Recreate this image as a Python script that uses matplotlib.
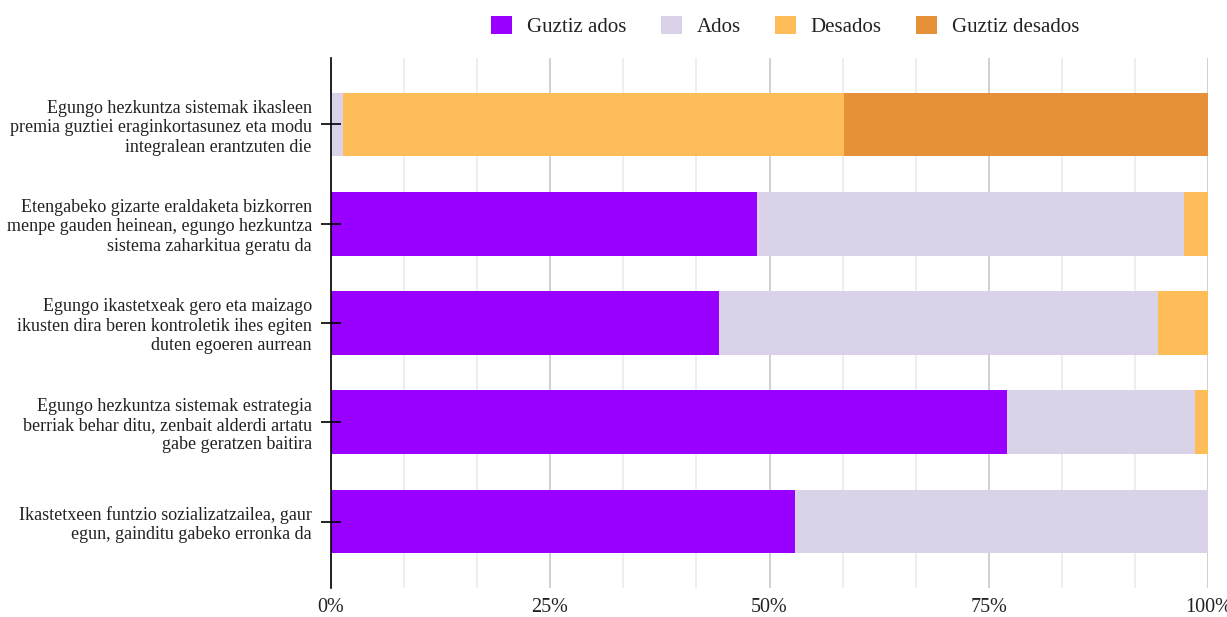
import numpy as np
import matplotlib.pyplot as plt
from matplotlib.patches import Patch
from matplotlib.ticker import FixedLocator, PercentFormatter

plt.rcParams['font.family'] = ['Liberation Serif', 'DejaVu Serif']

# Survey statements (top to bottom) and answer shares in percent
statements = [
    "Egungo hezkuntza sistemak ikasleen\npremia guztiei eraginkortasunez eta modu\nintegralean erantzuten die",
    "Etengabeko gizarte eraldaketa bizkorren\nmenpe gauden heinean, egungo hezkuntza\nsistema zaharkitua geratu da",
    "Egungo ikastetxeak gero eta maizago\nikusten dira beren kontroletik ihes egiten\nduten egoeren aurrean",
    "Egungo hezkuntza sistemak estrategia\nberriak behar ditu, zenbait alderdi artatu\ngabe geratzen baitira",
    "Ikastetxeen funtzio sozializatzailea, gaur\negun, gainditu gabeko erronka da",
]
answers = ["Guztiz ados", "Ados", "Desados", "Guztiz desados"]
guztiz_ados = [0.0, 48.6, 44.3, 77.1, 52.9]
ados = [1.4, 48.6, 50.0, 21.4, 47.1]
desados = [57.1, 2.8, 5.7, 1.5, 0.0]
guztiz_desados = [41.5, 0.0, 0.0, 0.0, 0.0]
colors = ["#9900ff", "#d9d2e9", "#ffbd59", "#e69138"]

fig = plt.figure(figsize=(12.27, 6.17), dpi=100)
ax = fig.add_axes([0.2694, 0.047, 0.7155, 0.859])

y = np.arange(len(statements))
left = np.zeros(len(statements))
for vals, name, col in zip([guztiz_ados, ados, desados, guztiz_desados], answers, colors):
    vals = np.array(vals)
    ax.barh(y, vals, left=left, height=0.64, color=col, label=name, zorder=2)
    left += vals

ax.set_xlim(0, 100)
ax.set_ylim(4.67, -0.67)

major = [0, 25, 50, 75, 100]
minor = np.linspace(0, 100, 13)
ax.xaxis.set_major_locator(FixedLocator(major))
ax.xaxis.set_major_formatter(PercentFormatter(decimals=0))

# gridlines behind the bars: light every 1/12, darker at the labelled quarters
ax.vlines(minor, 0, 1, transform=ax.get_xaxis_transform(), color='#ebebeb', lw=1.2, zorder=0)
ax.vlines(major, 0, 1, transform=ax.get_xaxis_transform(), color='#cccccc', lw=1.2, zorder=0.5)

# ticks drawn over the bars
ax.set_axisbelow(False)
ax.tick_params(axis='x', length=0, labelsize=14.5, pad=7, labelcolor='#222222')

ax.set_yticks(y)
ax.set_yticklabels(statements, fontsize=13, color='#222222', linespacing=1.18)
ax.tick_params(axis='y', direction='inout', length=15, width=1.2, pad=6, color='black')

for side in ['top', 'right', 'bottom']:
    ax.spines[side].set_visible(False)
ax.spines['left'].set_color('black')
ax.spines['left'].set_linewidth(1.2)
ax.spines['left'].set_zorder(3)

handles = [Patch(facecolor=c, edgecolor='none') for c in colors]
fig.legend(handles, answers, loc='upper center', bbox_to_anchor=(0.64, 1.005), ncol=4,
           frameon=False, fontsize=15, handlelength=1.0, handleheight=1.0,
           handletextpad=0.72, columnspacing=1.65, labelcolor='#222222')

fig.savefig('out.png', dpi=100)
